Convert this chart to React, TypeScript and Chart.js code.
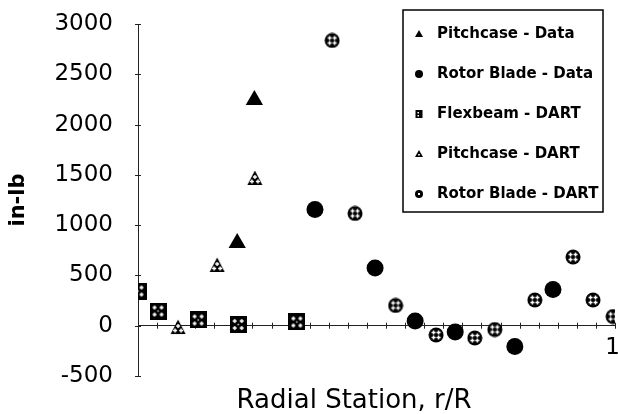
import React, { useEffect, useRef } from 'react';
import { Chart, registerables } from 'chart.js';

Chart.register(...registerables);

// ---------- data ----------
const seriesLabels = [
  'Pitchcase - Data',
  'Rotor Blade - Data',
  'Flexbeam - DART',
  'Pitchcase - DART',
  'Rotor Blade - DART',
];

const pitchcaseDataX = [0.208, 0.244];
const pitchcaseDataY = [822, 2245];

const rotorBladeDataX = [0.371, 0.497, 0.581, 0.665, 0.79, 0.87];
const rotorBladeDataY = [1155, 574, 47, -63, -206, 360];

const flexbeamDartX = [0, 0.042, 0.126, 0.21, 0.333];
const flexbeamDartY = [345, 146, 57, 12, 37];

const pitchcaseDartX = [0.084, 0.166, 0.245];
const pitchcaseDartY = [-13, 604, 1469];

const rotorBladeDartX = [0.407, 0.455, 0.54, 0.625, 0.706, 0.748, 0.832, 0.912, 0.954, 0.996];
const rotorBladeDartY = [2836, 1116, 201, -92, -122, -38, 256, 683, 256, 91];

const yMin = -500;
const yMax = 3000;
const yStep = 500;
const xMin = 0;
const xMax = 1;
const xStep = 0.04;
const xTickLabels = ['1'];

const xTitle = 'Radial Station, r/R';
const yTitle = 'in-lb';

// ---------- marker images ----------
function plus(ctx: CanvasRenderingContext2D, cx: number, cy: number) {
  ctx.fillRect(cx - 2, cy - 0.75, 4, 1.5);
  ctx.fillRect(cx - 0.75, cy - 2, 1.5, 4);
}

function makeMarker(shape: 'square' | 'circle' | 'triangle'): HTMLCanvasElement {
  const c = document.createElement('canvas');
  const s = shape === 'square' ? 17 : 16;
  c.width = s;
  c.height = s;
  const ctx = c.getContext('2d')!;
  ctx.fillStyle = '#000';
  ctx.beginPath();
  if (shape === 'square') {
    ctx.rect(0, 0, s, s);
  } else if (shape === 'circle') {
    ctx.arc(s / 2, s / 2, s / 2 - 0.5, 0, Math.PI * 2);
  } else {
    ctx.moveTo(s / 2, 0.5);
    ctx.lineTo(s - 0.5, s - 1);
    ctx.lineTo(0.5, s - 1);
    ctx.closePath();
  }
  ctx.fill();
  ctx.fillStyle = '#fff';
  if (shape === 'square') {
    plus(ctx, 5, 5);
    plus(ctx, 12, 5);
    plus(ctx, 5, 12);
    plus(ctx, 12, 12);
    ctx.fillRect(7.8, 7.8, 1.4, 1.4);
  } else if (shape === 'circle') {
    plus(ctx, 5.5, 5.5);
    plus(ctx, 10.5, 5.5);
    plus(ctx, 5.5, 10.5);
    plus(ctx, 10.5, 10.5);
  } else {
    plus(ctx, 8, 7);
    plus(ctx, 5, 11.5);
    plus(ctx, 11, 11.5);
  }
  return c;
}

const toPoints = (xs: number[], ys: number[]) => xs.map((x, i) => ({ x, y: ys[i] }));

const zeroPad = (s: any) => {
  s.paddingTop = 0;
  s.paddingBottom = 0;
  s.paddingLeft = 0;
  s.paddingRight = 0;
};

// ---------- plugins ----------
const crossTicks = {
  id: 'crossTicks',
  beforeDatasetsDraw(chart: any) {
    const { ctx } = chart;
    const xs = chart.scales.x;
    const ys = chart.scales.y;
    const y0 = ys.getPixelForValue(0);
    const x0 = xs.getPixelForValue(0);
    ctx.save();
    ctx.strokeStyle = '#222';
    ctx.lineWidth = 1;
    xs.ticks.forEach((t: any) => {
      const px = Math.round(xs.getPixelForValue(t.value)) + 0.5;
      ctx.beginPath();
      ctx.moveTo(px, y0 - 3);
      ctx.lineTo(px, y0 + 3);
      ctx.stroke();
    });
    ys.ticks.forEach((t: any) => {
      const py = Math.round(ys.getPixelForValue(t.value)) + 0.5;
      ctx.beginPath();
      ctx.moveTo(x0 - 3, py);
      ctx.lineTo(x0 + 3, py);
      ctx.stroke();
    });
    ctx.restore();
  },
};

const titlesPlugin = {
  id: 'axisTitles',
  afterDraw(chart: any) {
    const { ctx, chartArea } = chart;
    ctx.save();
    ctx.fillStyle = '#000';
    ctx.font = '26px "DejaVu Sans"';
    ctx.textAlign = 'center';
    ctx.textBaseline = 'alphabetic';
    ctx.fillText(xTitle, chartArea.left + chartArea.width * 0.453, 408);
    ctx.restore();
    ctx.save();
    ctx.fillStyle = '#000';
    ctx.font = 'bold 21px "DejaVu Sans"';
    ctx.translate(19, (chartArea.top + chartArea.bottom) / 2);
    ctx.rotate(-Math.PI / 2);
    ctx.textAlign = 'center';
    ctx.textBaseline = 'middle';
    ctx.fillText(yTitle, 0, 0);
    ctx.restore();
  },
};

const boxLegend = {
  id: 'boxLegend',
  afterDraw(chart: any) {
    const { ctx } = chart;
    const bx = 403;
    const by = 10;
    const bw = 200;
    const bh = 202;
    ctx.save();
    ctx.fillStyle = '#fff';
    ctx.fillRect(bx, by, bw, bh);
    ctx.strokeStyle = '#000';
    ctx.lineWidth = 1.5;
    ctx.strokeRect(bx, by, bw, bh);
    ctx.font = 'bold 15px "DejaVu Sans"';
    ctx.textBaseline = 'middle';
    ctx.textAlign = 'left';
    const mx = 419;
    chart.data.datasets.forEach((ds: any, i: number) => {
      const cy = by + 24 + i * 40;
      ctx.fillStyle = '#000';
      ctx.beginPath();
      if (i === 0 || i === 3) {
        ctx.moveTo(mx, cy - 4);
        ctx.lineTo(mx + 4, cy + 3);
        ctx.lineTo(mx - 4, cy + 3);
        ctx.closePath();
        ctx.fill();
        if (i === 3) {
          ctx.fillStyle = '#fff';
          ctx.fillRect(mx - 0.8, cy, 1.6, 1.6);
        }
      } else if (i === 1 || i === 4) {
        ctx.arc(mx, cy, 4, 0, Math.PI * 2);
        ctx.fill();
        if (i === 4) {
          ctx.fillStyle = '#fff';
          ctx.fillRect(mx - 1, cy - 1, 2, 2);
        }
      } else {
        ctx.rect(mx - 3.5, cy - 4, 7, 8);
        ctx.fill();
        ctx.fillStyle = '#fff';
        ctx.fillRect(mx - 1.5, cy - 2, 1.5, 1.5);
        ctx.fillRect(mx - 1.5, cy + 1, 1.5, 1.5);
      }
      ctx.fillStyle = '#000';
      ctx.fillText(ds.label, 437, cy);
    });
    ctx.restore();
  },
};

export default function App() {
  const ref = useRef<HTMLCanvasElement | null>(null);

  useEffect(() => {
    if (!ref.current) return;
    const squareImg = makeMarker('square');
    const circleImg = makeMarker('circle');
    const triImg = makeMarker('triangle');

    const chart = new Chart(ref.current, {
      type: 'scatter',
      data: {
        datasets: [
          {
            label: seriesLabels[0],
            data: toPoints(pitchcaseDataX, pitchcaseDataY),
            pointStyle: 'triangle',
            pointRadius: 10,
            borderWidth: 0,
            backgroundColor: '#000',
            borderColor: '#000',
          },
          {
            label: seriesLabels[1],
            data: toPoints(rotorBladeDataX, rotorBladeDataY),
            pointStyle: 'circle',
            pointRadius: 8.5,
            borderWidth: 0,
            backgroundColor: '#000',
            borderColor: '#000',
          },
          {
            label: seriesLabels[2],
            data: toPoints(flexbeamDartX, flexbeamDartY),
            pointStyle: squareImg as any,
            pointRadius: 8,
            backgroundColor: '#000',
            borderColor: '#000',
          },
          {
            label: seriesLabels[3],
            data: toPoints(pitchcaseDartX, pitchcaseDartY),
            pointStyle: triImg as any,
            pointRadius: 8,
            backgroundColor: '#000',
            borderColor: '#000',
          },
          {
            label: seriesLabels[4],
            data: toPoints(rotorBladeDartX, rotorBladeDartY),
            pointStyle: circleImg as any,
            pointRadius: 8,
            backgroundColor: '#000',
            borderColor: '#000',
          },
        ],
      },
      options: {
        animation: false,
        responsive: false,
        events: [],
        layout: { autoPadding: false, padding: { left: 0, right: 3, top: 24, bottom: 38 } },
        plugins: {
          legend: { display: false },
          title: { display: false },
          tooltip: { enabled: false },
        },
        scales: {
          x: {
            type: 'linear',
            position: { y: 0 } as any,
            min: xMin,
            max: xMax,
            afterFit: (s: any) => {
              s.height = 0;
              zeroPad(s);
            },
            grid: { display: true, drawOnChartArea: false, drawTicks: false },
            border: { display: true, color: '#222', width: 1 },
            ticks: {
              stepSize: xStep,
              autoSkip: false,
              maxRotation: 0,
              align: 'inner',
              padding: 0,
              labelOffset: 5,
              color: '#000',
              font: { family: 'DejaVu Sans', size: 23, lineHeight: 1.9 },
              callback: (v: any) => {
                const n = Number(v);
                const hit = xTickLabels.find((l) => Math.abs(Number(l) - n) < 1e-6);
                return hit ?? '';
              },
            },
          },
          y: {
            type: 'linear',
            position: 'left',
            min: yMin,
            max: yMax,
            afterFit: (s: any) => {
              s.width = 138;
              zeroPad(s);
            },
            grid: { display: true, drawOnChartArea: false, drawTicks: false },
            border: { display: true, color: '#222', width: 1 },
            ticks: {
              stepSize: yStep,
              padding: 25,
              color: '#000',
              font: { family: 'DejaVu Sans', size: 23 },
              callback: (v: any) => String(Math.round(Number(v))),
            },
          },
        },
      },
      plugins: [crossTicks, titlesPlugin, boxLegend],
    });
    return () => chart.destroy();
  }, []);

  return (
    <div style={{ position: 'fixed', left: 0, top: 0, width: 618, height: 414, background: '#fff' }}>
      <canvas ref={ref} width={618} height={414} />
    </div>
  );
}
